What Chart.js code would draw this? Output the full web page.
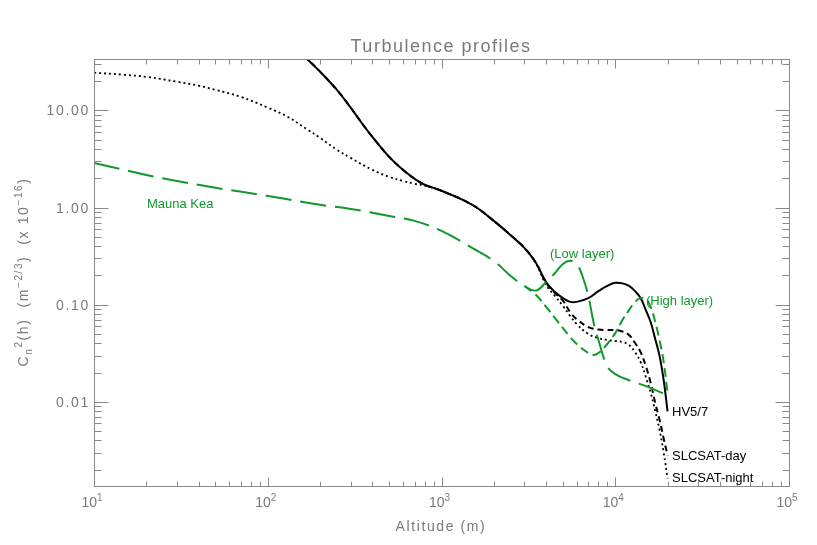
<!DOCTYPE html>
<html>
<head>
<meta charset="utf-8">
<script src="https://cdn.jsdelivr.net/npm/chart.js@4.4.0/dist/chart.umd.min.js"></script>
<style>
  body { margin: 0; background: #fff; }
  canvas { display: block; }
</style>
</head>
<body>
<canvas id="turbulence" width="817" height="545"></canvas>
<script>
// altitude (m) and Cn2 (x 1e-16 m^-2/3)
var hvAlt = [160, 170, 200, 250, 300, 350, 400, 500, 600, 700, 800, 1000, 1500, 2000, 2500, 3000, 3500, 4000, 4500, 5000, 5500, 6000, 7000, 8000, 9000, 10000, 11000, 12000, 13000, 14000, 15000, 16000, 17000, 18000, 19000, 20000];
var hvCn2 = [35.8, 33.3, 25.1, 16.3, 10.7, 7.3, 5.36, 3.33, 2.45, 1.98, 1.72, 1.49, 1.07, 0.73, 0.52, 0.385, 0.269, 0.171, 0.135, 0.117, 0.107, 0.107, 0.117, 0.138, 0.156, 0.168, 0.166, 0.156, 0.138, 0.117, 0.088, 0.066, 0.044, 0.0296, 0.0167, 0.0080];

var dayAlt = [160, 170, 200, 250, 300, 350, 400, 500, 600, 700, 800, 1000, 1500, 2000, 2500, 3000, 3500, 4000, 4500, 5000, 5500, 6000, 7000, 8000, 9000, 10000, 11000, 12000, 13000, 14000, 15000, 16000, 17000, 18000, 19000, 20000];
var dayCn2 = [35.8, 33.3, 25.1, 16.3, 10.7, 7.3, 5.36, 3.33, 2.45, 1.98, 1.72, 1.49, 1.07, 0.73, 0.52, 0.385, 0.269, 0.168, 0.132, 0.110, 0.084, 0.071, 0.0589, 0.0555, 0.0548, 0.0548, 0.053, 0.0488, 0.0403, 0.0325, 0.0233, 0.0156, 0.0097, 0.0065, 0.0042, 0.0028];

var nightAlt = [10, 15, 20, 30, 40, 50, 70, 100, 130, 170, 200, 250, 300, 400, 500, 600, 700, 800, 1000, 1500, 2000, 2500, 3000, 3500, 4000, 4500, 5000, 5500, 6000, 7000, 8000, 9000, 10000, 11000, 12000, 13000, 14000, 15000, 16000, 17000, 18000, 19000, 20000];
var nightCn2 = [24.5, 23.3, 22.2, 19.8, 18.0, 16.3, 13.8, 10.7, 8.61, 6.32, 5.23, 3.94, 3.25, 2.45, 2.07, 1.88, 1.76, 1.68, 1.49, 1.07, 0.73, 0.52, 0.385, 0.265, 0.160, 0.123, 0.097, 0.0766, 0.0633, 0.0499, 0.0454, 0.0433, 0.0423, 0.0413, 0.0385, 0.0325, 0.0257, 0.018, 0.0123, 0.0080, 0.0051, 0.0030, 0.00163];

// Mauna Kea with the low layer
var lowAlt = [10, 20, 30, 50, 100, 200, 300, 500, 700, 1000, 1500, 2000, 2500, 3000, 3500, 4000, 4500, 5000, 5500, 6000, 6500, 7000, 7500, 8000, 9000, 10000, 12000, 15000, 20000];
var lowCn2 = [2.89, 2.17, 1.88, 1.60, 1.32, 1.07, 0.97, 0.82, 0.73, 0.575, 0.385, 0.283, 0.198, 0.156, 0.140, 0.171, 0.212, 0.263, 0.283, 0.263, 0.193, 0.123, 0.066, 0.0433, 0.0233, 0.0193, 0.0167, 0.0145, 0.0117];

// Mauna Kea with the high layer (branches off above 3 km)
var highAlt = [3000, 3500, 4000, 4500, 5000, 5500, 6000, 7000, 7500, 8000, 9000, 10000, 11000, 12000, 13000, 14000, 15000, 16000, 17000, 18000, 19000, 20000];
var highCn2 = [0.156, 0.126, 0.095, 0.073, 0.0575, 0.0465, 0.0394, 0.0318, 0.0303, 0.0318, 0.0394, 0.051, 0.0695, 0.088, 0.107, 0.117, 0.115, 0.095, 0.066, 0.043, 0.0257, 0.0123];

var xTickValues = [10, 100, 1000, 10000, 100000];
var xTickExp = ['1', '2', '3', '4', '5'];
var yTickValues = [10, 1, 0.1, 0.01];
var yTickLabels = ['10.00', '1.00', '0.10', '0.01'];

var green = '#10982c';
var axisColor = '#8a8a8a';
var textColor = '#7a7a7a';
var axisFont = '"Liberation Sans", Arial, sans-serif';

function pts(xs, ys) {
  return xs.map(function(x, i) { return {x: x, y: ys[i]}; });
}

function drawRich(ctx, parts, x, y, draw) {
  var cx = x;
  parts.forEach(function(p) {
    ctx.font = p[1] + 'px ' + axisFont;
    if (draw) ctx.fillText(p[0], cx, y + p[2]);
    cx += ctx.measureText(p[0]).width;
  });
  return cx - x;
}

var framePlugin = {
  id: 'frame',
  afterDatasetsDraw: function(chart) {
    var ctx = chart.ctx, a = chart.chartArea;
    var xs = chart.scales.x, ys = chart.scales.y;
    var L = Math.round(a.left) + 0.5, R = Math.round(a.right) + 0.5;
    var T = Math.round(a.top) + 0.5, B = Math.round(a.bottom) + 0.5;
    ctx.save();
    ctx.strokeStyle = axisColor;
    ctx.lineWidth = 1;
    ctx.setLineDash([]);
    ctx.strokeRect(L, T, R - L, B - T);

    ctx.beginPath();
    var d, m, v, p, len;
    for (d = 1; d <= 5; d++) {
      for (m = 1; m <= 9; m++) {
        v = m * Math.pow(10, d);
        if (v > xs.max * 1.0001) continue;
        p = Math.round(xs.getPixelForValue(v)) + 0.5;
        len = m === 1 ? 9 : 5;
        ctx.moveTo(p, B); ctx.lineTo(p, B - len);
        ctx.moveTo(p, T); ctx.lineTo(p, T + len);
      }
    }
    for (d = -3; d <= 1; d++) {
      for (m = 1; m <= 9; m++) {
        v = m * Math.pow(10, d);
        if (v < ys.min || v > ys.max) continue;
        p = Math.round(ys.getPixelForValue(v)) + 0.5;
        len = m === 1 ? 14 : 7;
        ctx.moveTo(L, p); ctx.lineTo(L + len, p);
        ctx.moveTo(R, p); ctx.lineTo(R - len, p);
      }
    }
    ctx.stroke();

    // axis text
    ctx.fillStyle = textColor;
    ctx.textBaseline = 'alphabetic';
    try { ctx.letterSpacing = '0px'; } catch (e) {}
    xTickValues.forEach(function(val, i) {
      var px = xs.getPixelForValue(val);
      drawRich(ctx, [['10', 14, 0], [xTickExp[i], 10, -6]], px - 12.5, 507, true);
    });
    try { ctx.letterSpacing = '1.7px'; } catch (e) {}
    ctx.textAlign = 'right';
    ctx.font = '14px ' + axisFont;
    yTickValues.forEach(function(val, i) {
      var py = ys.getPixelForValue(val);
      ctx.fillText(yTickLabels[i], 90, py + 5);
    });
    ctx.textAlign = 'left';

    // title
    try { ctx.letterSpacing = '1.5px'; } catch (e) {}
    ctx.font = '18px ' + axisFont;
    var tw = ctx.measureText('Turbulence profiles').width;
    ctx.fillText('Turbulence profiles', 441 - tw / 2, 52);

    try { ctx.letterSpacing = '1.6px'; } catch (e) {}
    ctx.font = '14px ' + axisFont;
    var xw = ctx.measureText('Altitude (m)').width;
    ctx.fillText('Altitude (m)', 441 - xw / 2, 531);

    var yParts = [['C', 14, 0], ['n', 10, 4], ['2', 10, -6], ['(h)  (m', 14, 0], ['\u22122/3', 10, -6],
                  [')  (x 10', 14, 0], ['\u221216', 10, -6], [')', 14, 0]];
    ctx.translate(28, 272);
    ctx.rotate(-Math.PI / 2);
    var yw = drawRich(ctx, yParts, 0, 0, false);
    drawRich(ctx, yParts, -yw / 2, 0, true);
    ctx.restore();

    // curve labels
    ctx.save();
    ctx.font = '13px ' + axisFont;
    ctx.textBaseline = 'middle';
    ctx.fillStyle = green;
    ctx.fillText('Mauna Kea', 147, 204);
    ctx.fillText('(Low layer)', 550, 254);
    ctx.fillText('(High layer)', 646, 301);
    ctx.fillStyle = '#000';
    ctx.fillText('HV5/7', 672, 412);
    ctx.fillText('SLCSAT-day', 672, 456);
    ctx.fillText('SLCSAT-night', 672, 478);
    ctx.restore();
  }
};

function line(data, color, width, dash) {
  return {
    data: data,
    borderColor: color,
    borderWidth: width,
    borderDash: dash,
    pointRadius: 0,
    showLine: true,
    fill: false,
    tension: 0.4
  };
}

var ctx = document.getElementById('turbulence').getContext('2d');
var chart = new Chart(ctx, {
  type: 'scatter',
  data: {
    datasets: [
      line(pts(lowAlt, lowCn2), green, 2, [26, 9]),
      line(pts(highAlt, highCn2), green, 2, [9, 5]),
      line(pts(nightAlt, nightCn2), '#000', 1.8, [2, 3]),
      line(pts(dayAlt, dayCn2), '#000', 2, [6, 4]),
      line(pts(hvAlt, hvCn2), '#000', 2, [])
    ]
  },
  options: {
    responsive: false,
    animation: false,
    layout: { padding: { left: 94, right: 28, top: 59, bottom: 59 } },
    plugins: { legend: { display: false }, tooltip: { enabled: false }, title: { display: false } },
    scales: {
      x: { type: 'logarithmic', min: 10, max: 100000, display: false },
      y: { type: 'logarithmic', min: 0.00136, max: 33.9, display: false }
    }
  },
  plugins: [framePlugin]
});
</script>
</body>
</html>
